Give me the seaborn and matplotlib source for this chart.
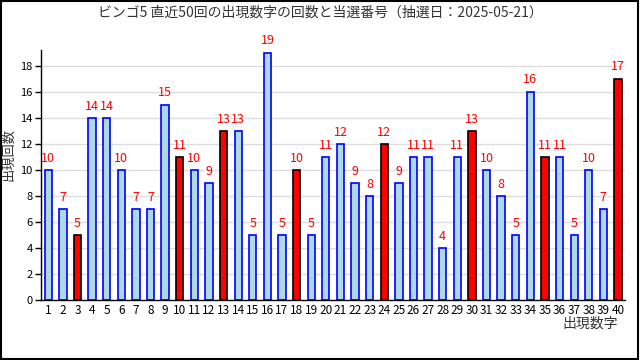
import matplotlib
matplotlib.use("Agg")
import matplotlib.pyplot as plt
import seaborn as sns
import pandas as pd
import numpy as np
from matplotlib.patches import Rectangle

numbers = list(range(1, 41))
counts = [10, 7, 5, 14, 14, 10, 7, 7, 15, 11,
          10, 9, 13, 13, 5, 19, 5, 10, 5, 11,
          12, 9, 8, 12, 9, 11, 11, 4, 11, 13,
          10, 8, 5, 16, 11, 11, 5, 10, 7, 17]
winning = [3, 10, 13, 18, 24, 30, 35, 40]
title = "ビンゴ5 直近50回の出現数字の回数と当選番号（抽選日：2025-05-21）"
xlabel = "出現数字"
ylabel = "出現回数"
yticks = [0, 2, 4, 6, 8, 10, 12, 14, 16, 18]

sns.set_theme(style="white")
plt.rcParams['font.family'] = ['Noto Sans CJK JP', 'DejaVu Sans']

df = pd.DataFrame({"num": [str(n) for n in numbers], "count": counts})
df["group"] = ["win" if n in winning else "other" for n in numbers]

fig = plt.figure(figsize=(6.4, 3.6), dpi=100)
ax = fig.add_axes([0.064, 0.167, 0.913, 0.694])

sns.barplot(data=df, x="num", y="count", hue="group",
            palette={"win": "#ff0000", "other": "#add8e6"},
            order=df["num"].tolist(), dodge=False, width=0.5,
            legend=False, ax=ax, saturation=1)

for p in ax.patches:
    if p.get_height() == 0 or np.isnan(p.get_height()):
        continue
    fc = p.get_facecolor()
    if fc[0] > 0.9 and fc[1] < 0.1:
        p.set_edgecolor("black")
    else:
        p.set_edgecolor("#0000ff")
    p.set_linewidth(1.2)

for i, c in enumerate(counts):
    ax.text(i, c + 0.4, str(c), color="#ff0000", ha="center", va="bottom", fontsize=9)

ax.set_xlim(-0.5, 39.5)
ax.set_ylim(0, 19.2)
ax.set_yticks(yticks)
ax.yaxis.grid(True, color="#dddddd", linewidth=1)
ax.set_axisbelow(True)
for s in ["top", "right"]:
    ax.spines[s].set_visible(False)
for s in ["left", "bottom"]:
    ax.spines[s].set_color("black")
    ax.spines[s].set_linewidth(1)

ax.tick_params(axis="x", which="major", length=0, labelsize=8.5, pad=3, colors="black")
ax.set_xticks(np.arange(0.5, 39.5, 1), minor=True)
ax.tick_params(axis="x", which="minor", direction="in", length=4, width=1, color="black")
ax.tick_params(axis="y", which="major", direction="out", length=4, width=1, pad=2,
               labelsize=8, colors="black", left=True)

ax.set_xlabel("")
ax.set_ylabel("")
fig.text(0.966, 0.1, xlabel, ha="right", va="center", fontsize=10, color="#333333")
fig.text(0.014, 0.57, ylabel, ha="center", va="center", rotation=90, fontsize=9.5, color="#333333")
fig.text(0.5, 0.965, title, ha="center", va="center", fontsize=10, color="#333333")

fig.patches.append(Rectangle((0.001, 0.002), 0.996, 0.995, transform=fig.transFigure,
                             fill=False, edgecolor="black", linewidth=1.5))

fig.savefig("out.png", dpi=100, facecolor="white")
